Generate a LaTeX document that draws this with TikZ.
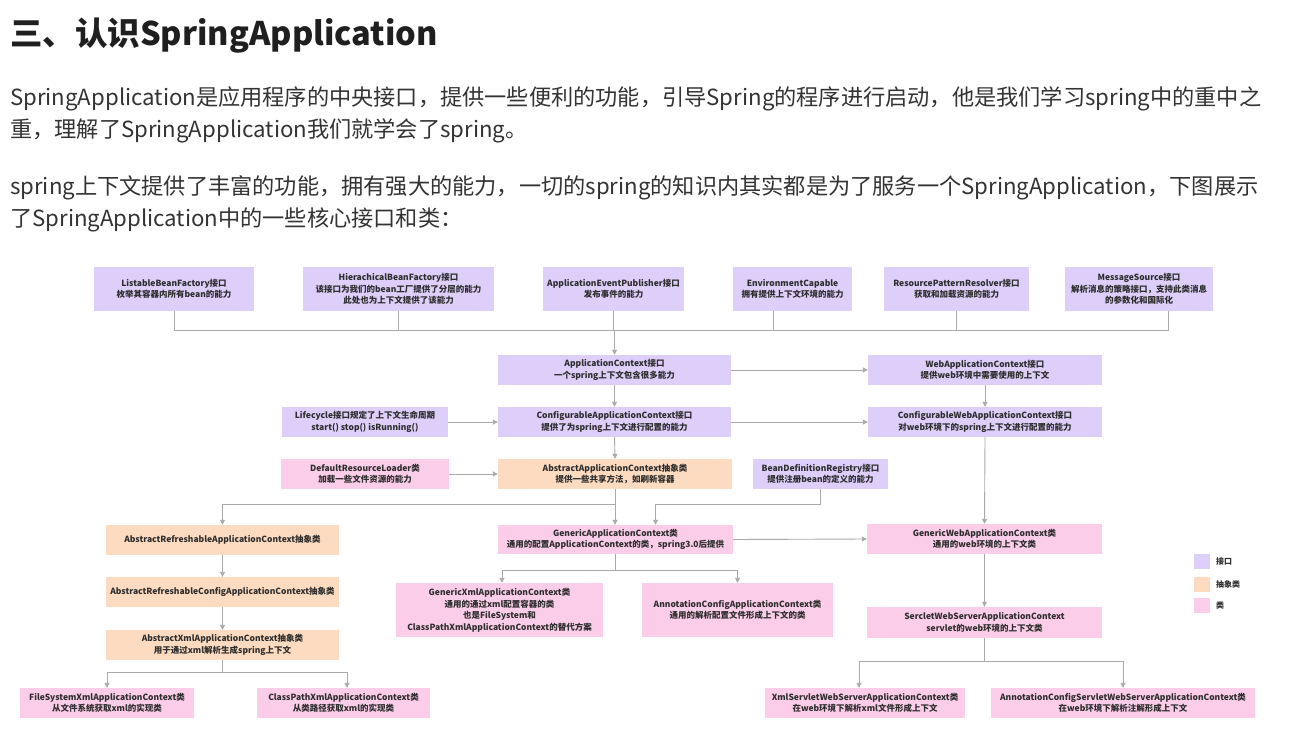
\documentclass[tikz,border=0pt]{standalone}
\usepackage{fontspec}
\setmainfont{Noto Sans CJK SC}
\usetikzlibrary{arrows.meta}
\definecolor{ifc}{RGB}{222,206,250}
\definecolor{abc}{RGB}{253,219,192}
\definecolor{clc}{RGB}{251,205,233}
\definecolor{lnc}{RGB}{170,170,170}
\definecolor{txc}{RGB}{51,51,51}
\definecolor{btx}{RGB}{45,45,45}
\begin{document}
\begin{tikzpicture}[x=1pt,y=-1pt,
  box/.style={inner sep=0pt, align=center, font=\fontsize{8.5}{11.5}\selectfont\bfseries, text=btx},
  iface/.style={box, fill=ifc},
  abst/.style={box, fill=abc},
  cls/.style={box, fill=clc},
  ln/.style={draw=lnc, line width=0.9pt},
  arr/.style={ln, -{Triangle[length=5pt,width=5pt]}},
  para/.style={anchor=base west, inner sep=0pt, text=txc, font=\fontsize{22.2}{22.2}\selectfont},
  legsq/.style={fill=#1, minimum width=16pt, minimum height=15pt, inner sep=0pt},
  legtx/.style={anchor=west, inner sep=0pt, text=btx, font=\fontsize{8}{8}\selectfont\bfseries}
]
\useasboundingbox[fill=white] (0,0) rectangle (1305,754);

% ---- text ----
\node[para, font=\fontsize{32.5}{32.5}\selectfont\bfseries, text=black!88] (title) at (10,46) {三、认识SpringApplication};
\node[para] (p1) at (10,106) {SpringApplication是应用程序的中央接口，提供一些便利的功能，引导Spring的程序进行启动，他是我们学习spring中的重中之};
\node[para] (p2) at (10,138) {重，理解了SpringApplication我们就学会了spring。};
\node[para] (p3) at (10,194) {spring上下文提供了丰富的功能，拥有强大的能力，一切的spring的知识内其实都是为了服务一个SpringApplication，下图展示};
\node[para] (p4) at (10,226) {了SpringApplication中的一些核心接口和类：};

% ---- top row ----
\node[iface, minimum width=160pt, minimum height=44pt] (lbf) at (174,289) {ListableBeanFactory接口\\枚举其容器内所有bean的能力};
\node[iface, minimum width=191pt, minimum height=44pt] (hbf) at (398.5,289) {HierachicalBeanFactory接口\\该接口为我们的bean工厂提供了分层的能力\\此处也为上下文提供了该能力};
\node[iface, minimum width=141pt, minimum height=44pt] (aep) at (613.5,289) {ApplicationEventPublisher接口\\发布事件的能力};
\node[iface, minimum width=119pt, minimum height=44pt] (ec) at (792.5,289) {EnvironmentCapable\\拥有提供上下文环境的能力};
\node[iface, minimum width=145pt, minimum height=44pt] (rpr) at (956.5,289) {ResourcePatternResolver接口\\获取和加载资源的能力};
\node[iface, minimum width=148pt, minimum height=44pt] (ms) at (1139,289) {MessageSource接口\\解析消息的策略接口，支持此类消息\\的参数化和国际化};

% ---- middle ----
\node[iface, minimum width=233pt, minimum height=30pt] (ac) at (614.5,370) {ApplicationContext接口\\一个spring上下文包含很多能力};
\node[iface, minimum width=234pt, minimum height=30pt] (wac) at (985,370) {WebApplicationContext接口\\提供web环境中需要使用的上下文};
\node[iface, minimum width=166pt, minimum height=30pt] (lc) at (365,422) {Lifecycle接口规定了上下文生命周期\\start() stop() isRunning()};
\node[iface, minimum width=233pt, minimum height=30pt] (cac) at (614.5,422) {ConfigurableApplicationContext接口\\提供了为spring上下文进行配置的能力};
\node[iface, minimum width=234pt, minimum height=30pt] (cwac) at (985,422) {ConfigurableWebApplicationContext接口\\对web环境下的spring上下文进行配置的能力};
\node[cls, minimum width=168pt, minimum height=30pt] (drl) at (365,474) {DefaultResourceLoader类\\加载一些文件资源的能力};
\node[abst, minimum width=234pt, minimum height=30pt] (aac) at (615,474) {AbstractApplicationContext抽象类\\提供一些共享方法，如刷新容器};
\node[iface, minimum width=135pt, minimum height=30pt] (bdr) at (820.5,474) {BeanDefinitionRegistry接口\\提供注册bean的定义的能力};

% ---- left column ----
\node[abst, minimum width=233pt, minimum height=30pt] (arac) at (222.5,540) {AbstractRefreshableApplicationContext抽象类};
\node[abst, minimum width=233pt, minimum height=30pt] (arcac) at (222.5,592) {AbstractRefreshableConfigApplicationContext抽象类};
\node[abst, minimum width=233pt, minimum height=30pt] (axac) at (222.5,645) {AbstractXmlApplicationContext抽象类\\用于通过xml解析生成spring上下文};
\node[cls, minimum width=174pt, minimum height=30pt] (fsx) at (107,703) {FileSystemXmlApplicationContext类\\从文件系统获取xml的实现类};
\node[cls, minimum width=173pt, minimum height=30pt] (cpx) at (343.5,703) {ClassPathXmlApplicationContext类\\从类路径获取xml的实现类};

% ---- generic ----
\node[cls, minimum width=235pt, minimum height=29pt] (gac) at (615.5,539.5) {GenericApplicationContext类\\通用的配置ApplicationContext的类，spring3.0后提供};
\node[cls, minimum width=207pt, minimum height=54pt] (gxac) at (499.5,610) {GenericXmlApplicationContext类\\通用的通过xml配置容器的类\\也是FileSystem和\\ClassPathXmlApplicationContext的替代方案};
\node[cls, minimum width=191pt, minimum height=54pt] (acac) at (737.5,610) {AnnotationConfigApplicationContext类\\通用的解析配置文件形成上下文的类};

% ---- web ----
\node[cls, minimum width=235pt, minimum height=30pt] (gwac) at (984.5,539) {GenericWebApplicationContext类\\通用的web环境的上下文类};
\node[cls, minimum width=235pt, minimum height=31pt] (swsac) at (984.5,622.5) {SercletWebServerApplicationContext\\servlet的web环境的上下文类};
\node[cls, minimum width=200pt, minimum height=30pt] (xsw) at (865,703) {XmlServletWebServerApplicationContext类\\在web环境下解析xml文件形成上下文};
\node[cls, minimum width=264pt, minimum height=30pt] (acsw) at (1123,703) {AnnotationConfigServletWebServerApplicationContext类\\在web环境下解析注解形成上下文};

% ---- legend ----
\node[legsq=ifc] (lg1) at (1202,561.5) {};
\node[legsq=abc] (lg2) at (1202,584) {};
\node[legsq=clc] (lg3) at (1202,605.5) {};
\node[legtx] (lt1) at (1216,561.5) {接口};
\node[legtx] (lt2) at (1216,584) {抽象类};
\node[legtx] (lt3) at (1216,605.5) {类};

% ---- connectors ----
\coordinate (bus) at (614.5,330);
\draw[ln] (lbf.south) |- (bus);
\draw[ln] (hbf.south) |- (bus);
\draw[ln] (aep.south) |- (bus);
\draw[ln] ([xshift=-19pt]ec.south) |- (bus);
\draw[ln] (rpr.south) |- (bus);
\draw[ln] ([xshift=29pt]ms.south) |- (bus);
\draw[arr] (bus) -- (ac.north);
\draw[arr] (ac.east) -- (wac.west);
\draw[arr] (ac.south) -- (cac.north);
\draw[arr] (wac.south) -- (cwac.north);
\draw[arr] (lc.east) -- (cac.west);
\draw[arr] (cac.east) -- (cwac.west);
\draw[arr] (cac.south) -- (aac.north);
\draw[arr] (drl.east) -- (aac.west);
\draw[arr] (aac.south) -- ++(0,15) -| (arac.north);
\draw[arr] (aac.south) -- (aac.south |- gac.north);
\draw[arr] (bdr.south) -- ++(0,15) -| ([xshift=40pt]gac.north);
\draw[arr] (gac.east) -- (gwac.west);
\draw[arr] (cwac.south) -- (gwac.north);
\draw[arr] (gwac.south) -- (swsac.north);
\draw[arr] (gac.south) -- ++(0,16) -| ([xshift=2.5pt]gxac.north);
\draw[arr] (gac.south) -- ++(0,16) -| (acac.north);
\draw[arr] (arac.south) -- (arcac.north);
\draw[arr] (arcac.south) -- (axac.north);
\draw[arr] (axac.south) -- ++(0,12) -| (fsx.north);
\draw[arr] (axac.south) -- ++(0,12) -| ([xshift=3.5pt]cpx.north);
\draw[arr] (swsac.south) -- ++(0,23) -| ([xshift=-6pt]xsw.north);
\draw[arr] (swsac.south) -- ++(0,23) -| (acsw.north);
\end{tikzpicture}
\end{document}
